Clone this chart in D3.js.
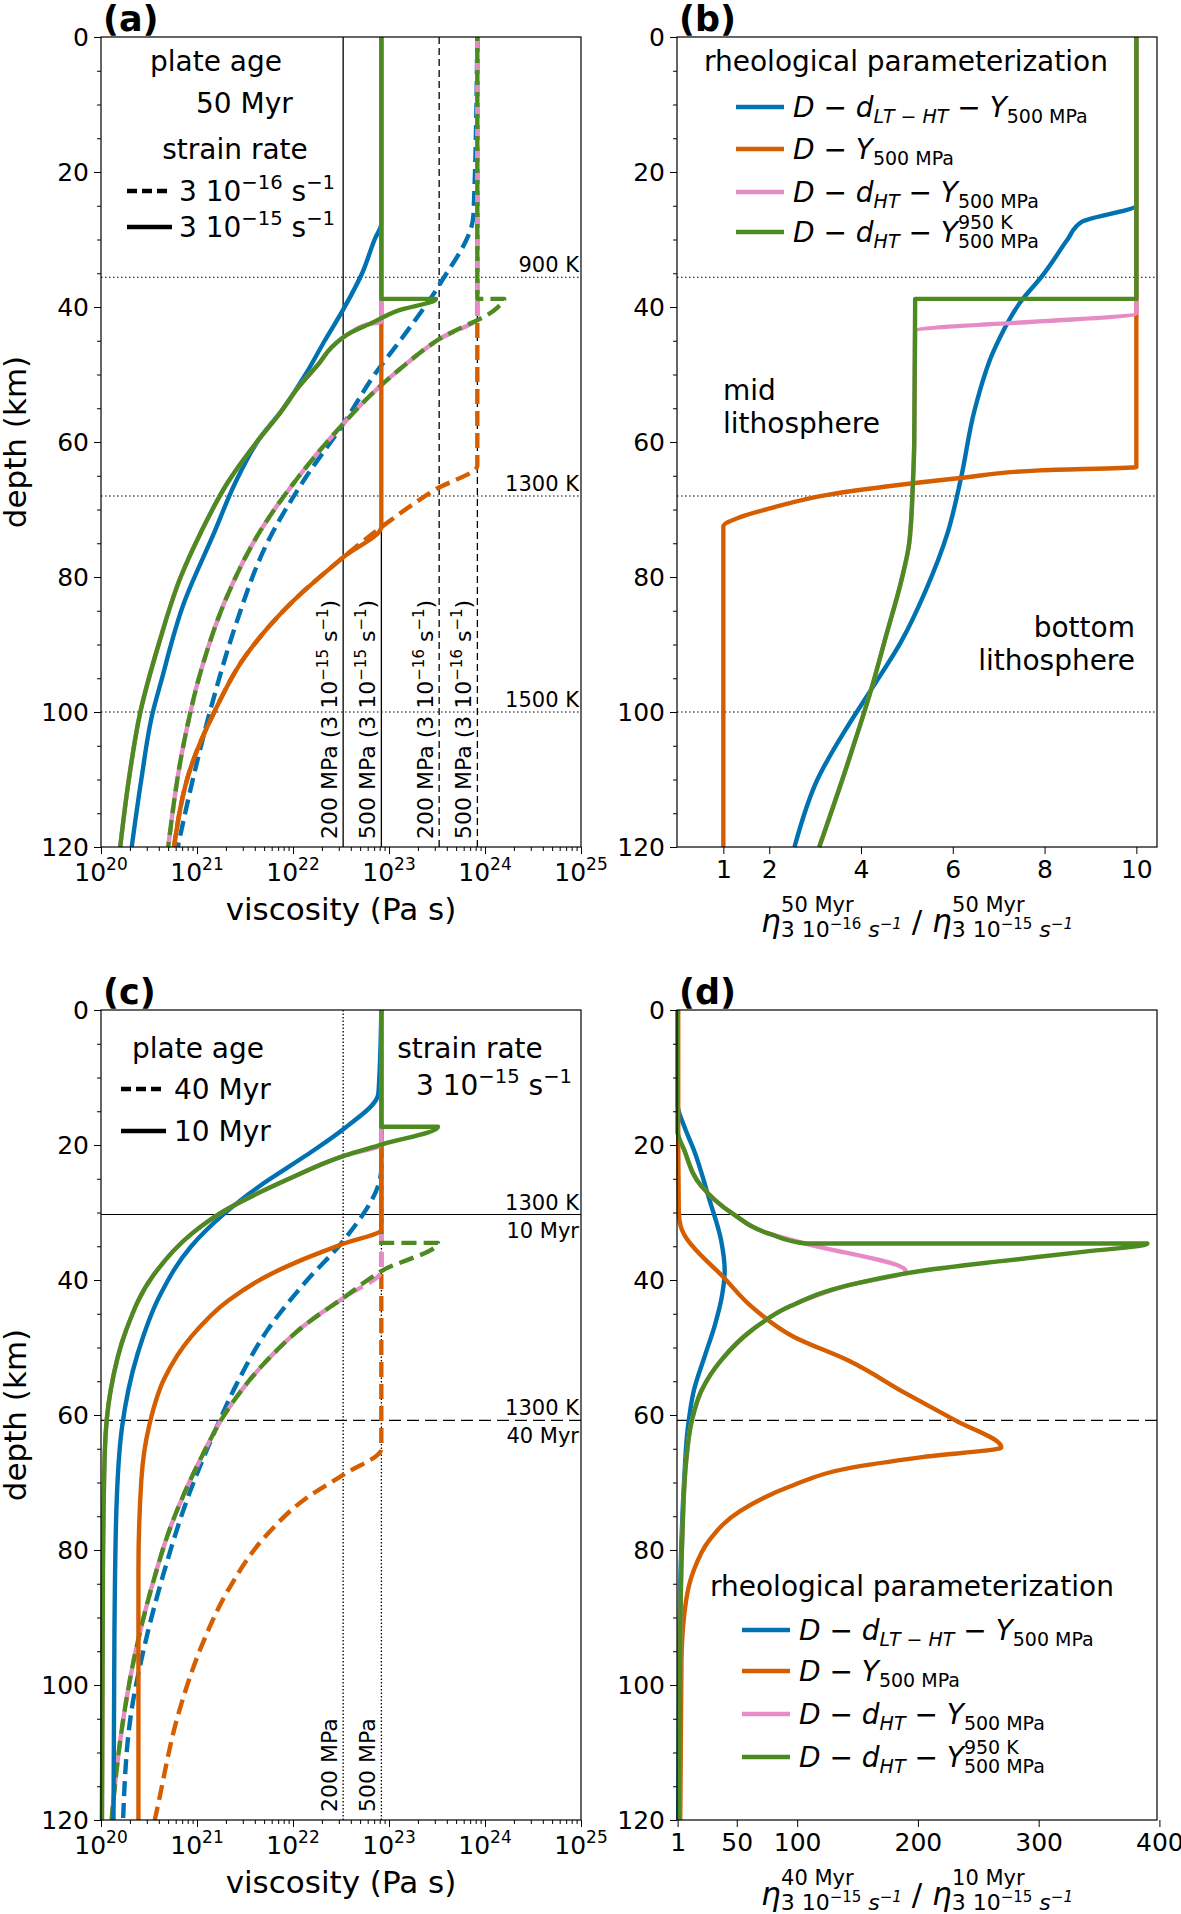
<!DOCTYPE html>
<html><head><meta charset="utf-8">
<script src="https://cdn.jsdelivr.net/npm/d3@7"></script>
<style>body{margin:0;background:#fff}svg text{font-family:"DejaVu Sans",sans-serif}</style>
</head><body><div id="graph"></div>
<script>
// colours of the four rheological parameterizations
const C = {blue: "#0072b2", orange: "#d55e00", pink: "#e68bc5", green: "#4d8a1f"};

// panel (a): [depth km, log10 viscosity], 50 Myr plate
const a_blue_15 = [[0,22.92],[27.6,22.92],[30,22.85],[35,22.72],[40.2,22.53],[45,22.33],[50,22.13],[55,21.9],[59.5,21.65],[66,21.4],[73.4,21.18],[84,20.86],[95.8,20.62],[100,20.54],[110,20.42],[120,20.32]];
const a_green_15 = [[0,22.92],[38.8,22.92],[38.8,23.49],[40.5,23.1],[42.5,22.8],[43.8,22.6],[46,22.4],[48.2,22.28],[52,22.05],[56,21.85],[59.5,21.65],[66,21.32],[73.4,21.04],[80,20.83],[90,20.6],[100,20.41],[110,20.29],[120,20.20]];
const a_pink_15 = [[0,22.92],[42.2,22.92],[42.5,22.8],[43.8,22.6],[46,22.4],[48.2,22.28],[52,22.05],[56,21.85],[59.5,21.65],[66,21.32],[73.4,21.04],[80,20.83],[90,20.6],[100,20.41],[110,20.29],[120,20.20]];
const a_orange_15 = [[0,22.92],[72.5,22.92],[77,22.53],[84,21.97],[92,21.49],[100,21.18],[108,20.94],[120,20.76]];
const a_blue_16 = [[0,23.92],[26.3,23.88],[36.6,23.53],[44.7,23.13],[50,22.85],[57.2,22.53],[65.3,22.13],[75,21.73],[86.8,21.41],[97.6,21.18],[111,20.94],[120,20.8]];
const a_green_16 = [[0,23.92],[38.8,23.92],[38.8,24.2],[40.2,24.12],[44.7,23.53],[49,23.13],[53.6,22.77],[57.2,22.53],[65.3,22.05],[73.4,21.65],[82.3,21.33],[93,21.06],[104.8,20.86],[120,20.70]];
const a_pink_16 = [[0,23.92],[41.5,23.92],[44.7,23.53],[49,23.13],[53.6,22.77],[57.2,22.53],[65.3,22.05],[73.4,21.65],[82.3,21.33],[93,21.06],[104.8,20.86],[120,20.70]];
const a_orange_16 = [[0,23.92],[63.5,23.92],[67,23.49],[72.5,22.93],[77,22.53],[84,21.97],[92,21.49],[100,21.18],[108,20.94],[120,20.76]];

// panel (b): [depth, ratio 3e-16 / 3e-15]
const b_blue = [[0,10],[24.9,10],[27.4,8.81],[30,8.5],[33,8.2],[35.2,7.97],[39.3,7.47],[46.5,6.89],[55.4,6.47],[65.3,6.18],[73.4,5.89],[82.3,5.39],[89.5,4.88],[96.7,4.22],[102,3.72],[110,3.05],[120,2.55]];
const b_green = [[0,10],[38.8,10],[38.8,5.18],[60,5.16],[66.2,5.13],[75,5.05],[80.5,4.88],[88.6,4.55],[96.7,4.22],[107.4,3.72],[120,3.09]];
const b_pink = [[0,10],[40.9,10],[43.6,5.18],[60,5.16],[66.2,5.13],[75,5.05],[80.5,4.88],[88.6,4.55],[96.7,4.22],[107.4,3.72],[120,3.09]];
const b_orange = [[0,10],[63.7,10],[64.2,7.89],[65.3,6.22],[66.6,4.55],[67.8,3.3],[69.8,2.04],[71.1,1.38],[72.5,1],[120,1]];

// panel (c): [depth, log10 viscosity], strain rate 3e-15
const c_blue_10 = [[0,22.92],[12.3,22.89],[17.6,22.53],[21.6,22.13],[26.1,21.65],[30.1,21.29],[35,20.94],[42.1,20.62],[51,20.38],[61.7,20.22],[74.2,20.16],[92,20.14],[120,20.13]];
const c_green_10 = [[0,22.92],[17.3,22.92],[17.3,23.51],[19.9,22.93],[21.6,22.53],[25.2,21.93],[29.7,21.29],[33.2,20.94],[39.4,20.54],[47.5,20.26],[56.4,20.10],[65.3,20.04],[83,20.02],[120,20.01]];
const c_pink_10 = [[0,22.92],[19.9,22.92],[21.6,22.53],[25.2,21.93],[29.7,21.29],[33.2,20.94],[39.4,20.54],[47.5,20.26],[56.4,20.10],[65.3,20.04],[83,20.02],[120,20.01]];
const c_orange_10 = [[0,22.92],[32.5,22.92],[34.6,22.53],[36.8,22.13],[39.4,21.73],[43,21.33],[48.4,20.94],[54.6,20.66],[61.7,20.5],[69.7,20.42],[83,20.39],[120,20.39]];
const c_blue_40 = [[0,22.92],[23.4,22.92],[34.1,22.53],[40.3,22.13],[47.5,21.73],[55.5,21.41],[62.6,21.18],[72.4,20.9],[83.1,20.66],[93.8,20.46],[103.6,20.32],[120,20.23]];
const c_green_40 = [[0,22.92],[34.5,22.92],[34.5,23.51],[38.6,22.93],[42.6,22.53],[46.6,22.13],[51.9,21.73],[59,21.33],[67,21.02],[76,20.74],[84.9,20.54],[96.4,20.34],[106.2,20.22],[120,20.11]];
const c_pink_40 = [[0,22.92],[38.6,22.92],[42.6,22.53],[46.6,22.13],[51.9,21.73],[59,21.33],[67,21.02],[76,20.74],[84.9,20.54],[96.4,20.34],[106.2,20.22],[120,20.11]];
const c_orange_40 = [[0,22.92],[65,22.92],[68.8,22.53],[72.4,22.13],[77.7,21.73],[85.8,21.33],[93.8,21.06],[103.6,20.82],[118.7,20.58],[120,20.56]];

// panel (d): [depth, ratio 40 Myr / 10 Myr]
const d_blue = [[0,1],[14,1],[17.2,6.4],[20.7,14.4],[27.9,27],[34.1,37],[38.6,40],[42.1,38],[46.6,32],[51,24],[56.4,14.4],[61.7,9.6],[69.7,6.4],[78.6,4.2],[92,2.6],[120,1.6]];
const d_green = [[0,1],[18,1],[20.7,6.4],[26.1,20.7],[30.1,46],[33.2,78],[34.6,107],[34.6,390],[35.9,333],[37.2,269],[38.6,205],[40.8,142],[43.9,94],[47.5,62],[51.9,37],[56.4,20.7],[60.8,12.8],[67,8],[78.6,4.8],[92,3.2],[120,2.3]];
const d_pink = [[0,1],[18,1],[20.7,6.4],[26.1,20.7],[30.1,46],[33.2,78],[34.6,107],[38.7,190],[40.8,142],[43.9,94],[47.5,62],[51.9,37],[56.4,20.7],[60.8,12.8],[67,8],[78.6,4.8],[92,3.2],[120,2.3]];
const d_orange = [[0,1.5],[20,1.5],[30,2],[32,3.5],[34,9],[35.9,18],[39.4,38],[43.9,62],[48.4,97],[51.9,142],[56.8,190],[60.8,231],[64.8,269],[66.2,205],[67.9,142],[70.6,94],[74.2,53],[78.6,27],[83,14.4],[87.5,8],[96.4,4.2],[120,3.2]];

const depth_ticks = [0,20,40,60,80,100,120];
const b_ticks = [1,2,4,6,8,10];
const d_ticks = [1,50,100,200,300,400];

const W = 1181, H = 1914;
const FS_TICK = 25, FS_LEG = 28, FS_AX = 31, LW = 4.4;
const svg = d3.select("#graph").append("svg").attr("width", W).attr("height", H);

const LEFT = [101, 677], RIGHT = [581, 1157];
const TOP = [37, 1010], BOT = [847, 1820];

function makePanel(col, row, xscale) {
  const g = svg.append("g");
  const y = d3.scaleLinear().domain([0, 120]).range([TOP[row], BOT[row]]);
  xscale.range([LEFT[col], RIGHT[col]]);
  return {g, x: xscale, y};
}

function yAxis(p) {
  const ax = d3.axisLeft(p.y).tickValues(depth_ticks).tickSize(7).tickPadding(5);
  const g = p.g.append("g").attr("transform", `translate(${p.x.range()[0]},0)`).call(ax);
  g.select(".domain").remove();
  g.selectAll("text").attr("font-size", FS_TICK).attr("fill", "#000");
  const m = d3.axisLeft(p.y).tickValues(d3.range(5, 120, 5).filter(v => v % 20)).tickSize(4).tickFormat("");
  const gm = p.g.append("g").attr("transform", `translate(${p.x.range()[0]},0)`).call(m);
  gm.select(".domain").remove();
}

function logXAxis(p) {
  const b = p.y.range()[1];
  const maj = d3.axisBottom(p.x).tickValues([1e20,1e21,1e22,1e23,1e24,1e25]).tickSize(7).tickFormat("");
  p.g.append("g").attr("transform", `translate(0,${b})`).call(maj).select(".domain").remove();
  const minor = [];
  for (let e = 20; e < 25; e++) for (let k = 2; k < 10; k++) minor.push(k * Math.pow(10, e));
  const mi = d3.axisBottom(p.x).tickValues(minor).tickSize(4).tickFormat("");
  p.g.append("g").attr("transform", `translate(0,${b})`).call(mi).select(".domain").remove();
  for (let e = 20; e <= 25; e++) {
    const t = p.g.append("text").attr("x", p.x(Math.pow(10, e))).attr("y", b + 34)
      .attr("text-anchor", "middle").attr("font-size", FS_TICK);
    t.append("tspan").text("10");
    t.append("tspan").attr("dy", -11).attr("font-size", 17).text(e);
  }
}

function linXAxis(p, ticks) {
  const b = p.y.range()[1];
  const ax = d3.axisBottom(p.x).tickValues(ticks).tickSize(7).tickPadding(6);
  const g = p.g.append("g").attr("transform", `translate(0,${b})`).call(ax);
  g.select(".domain").remove();
  g.selectAll("text").attr("font-size", FS_TICK).attr("fill", "#000");
}

function frame(p) {
  const [x0, x1] = p.x.range(), [y0, y1] = p.y.range();
  p.g.append("rect").attr("x", x0).attr("y", y0).attr("width", x1 - x0).attr("height", y1 - y0)
    .attr("fill", "none").attr("stroke", "#000").attr("stroke-width", 1.2);
}

function curve(p, data, color, dash, log, offset) {
  const line = d3.line().x(d => p.x(log ? Math.pow(10, d[1]) : d[1])).y(d => p.y(d[0])).curve(d3.curveMonotoneY);
  const path = p.g.append("path").datum(data).attr("d", line).attr("fill", "none")
    .attr("stroke", color).attr("stroke-width", LW).attr("stroke-linejoin", "round");
  if (dash) path.attr("stroke-dasharray", "15,7").attr("stroke-dashoffset", offset || 0);
}

function hline(p, depth, dash) {
  const [x0, x1] = p.x.range();
  const l = p.g.append("line").attr("x1", x0).attr("x2", x1).attr("y1", p.y(depth)).attr("y2", p.y(depth))
    .attr("stroke", "#000").attr("stroke-width", 1.1);
  if (dash) l.attr("stroke-dasharray", dash);
}
function vline(p, xv, dash) {
  const [y0, y1] = p.y.range();
  const l = p.g.append("line").attr("x1", p.x(xv)).attr("x2", p.x(xv)).attr("y1", y0).attr("y2", y1)
    .attr("stroke", "#000").attr("stroke-width", 1.3);
  if (dash) l.attr("stroke-dasharray", dash);
}

function rotLabel(p, xv, txt, exp) {
  const xx = p.x(xv) - 6, yy = p.y.range()[1] - 8;
  const t = p.g.append("text").attr("transform", `translate(${xx},${yy}) rotate(-90)`)
    .attr("font-family", "DejaVu Sans Condensed").attr("font-size", 22);
  t.append("tspan").text(txt);
  if (exp) {
    t.append("tspan").text(" (3 10");
    t.append("tspan").attr("dy", -9).attr("font-size", 15).text(exp);
    t.append("tspan").attr("dy", 9).text(" s");
    t.append("tspan").attr("dy", -9).attr("font-size", 15).text("−1");
    t.append("tspan").attr("dy", 9).text(")");
  }
}

function rightLabel(p, depth, txt, below) {
  p.g.append("text").attr("x", p.x.range()[1] - 2).attr("y", p.y(depth) + (below ? 23 : -5))
    .attr("text-anchor", "end").attr("font-size", 21).text(txt);
}

function rateText(g, x, y, exp, size) {
  const t = g.append("text").attr("x", x).attr("y", y).attr("font-size", size);
  t.append("tspan").text("3 10");
  t.append("tspan").attr("dy", -12).attr("font-size", size * 0.7).text(exp);
  t.append("tspan").attr("dy", 12).text(" s");
  t.append("tspan").attr("dy", -12).attr("font-size", size * 0.7).text("−1");
  return t;
}

function legLine(g, x0, x1, y, color, dash) {
  const l = g.append("line").attr("x1", x0).attr("x2", x1).attr("y1", y).attr("y2", y)
    .attr("stroke", color).attr("stroke-width", LW);
  if (dash) l.attr("stroke-dasharray", "10,5");
}

// math legend entries: D − d_sub − Y_500 MPa (optional 950 K superscript)
function mathEntry(g, x, y, sub, sup) {
  const t = g.append("text").attr("x", x).attr("y", y).attr("font-size", FS_LEG);
  t.append("tspan").attr("font-style", "italic").text("D");
  t.append("tspan").text(" − ");
  if (sub) {
    t.append("tspan").attr("font-style", "italic").text("d");
    t.append("tspan").attr("font-style", "italic").attr("font-size", 19).attr("dy", 6).text(sub);
    t.append("tspan").attr("dy", -6).text(" − ");
  }
  t.append("tspan").attr("font-style", "italic").text("Y");
  const s = t.append("tspan").attr("font-size", 19).attr("dy", 6).text("500 MPa");
  if (sup) {
    const sx = s.node().getStartPositionOfChar(0).x;
    g.append("text").attr("x", sx).attr("y", y - 13).attr("font-size", 19).text(sup);
  }
}

function legendRheo(g, x, ty, ys) {
  g.append("text").attr("x", x).attr("y", ty).attr("font-size", FS_LEG).text("rheological parameterization");
  const cols = [C.blue, C.orange, C.pink, C.green];
  const subs = ["LT − HT", null, "HT", "HT"];
  ys.forEach((yy, i) => {
    legLine(g, x + 32, x + 80, yy, cols[i]);
    mathEntry(g, x + 89, yy + 10, subs[i], i === 3 ? "950 K" : null);
  });
}

function ratioLabel(g, cx, y, supL, expL, supR, expR) {
  const t = g.append("text").attr("x", cx).attr("y", y).attr("text-anchor", "middle").attr("font-size", 31);
  const part = (sup, exp) => {
    t.append("tspan").attr("font-style", "italic").text("η");
    t.append("tspan").attr("font-size", 22).attr("dy", 5).text("3 10");
    t.append("tspan").attr("font-size", 15).attr("dy", -8).text(exp);
    t.append("tspan").attr("font-size", 22).attr("font-style", "italic").attr("dy", 8).text(" s");
    t.append("tspan").attr("font-size", 15).attr("font-style", "italic").attr("dy", -8).text("−1");
    t.append("tspan").attr("dy", 3).text(" ");
  };
  part(supL, expL);
  t.append("tspan").text("/ ");
  part(supR, expR);
  const etas = t.selectAll("tspan").nodes().filter(n => n.textContent === "η");
  [supL, supR].forEach((s, i) => {
    const px = etas[i].getStartPositionOfChar(0).x + 20;
    g.append("text").attr("x", px).attr("y", y - 20).attr("font-size", 21).text(s);
  });
}

function axisTitles(p, xtitle) {
  const [y0, y1] = p.y.range();
  p.g.append("text").attr("transform", `translate(${26},${(y0 + y1) / 2}) rotate(-90)`)
    .attr("text-anchor", "middle").attr("font-size", FS_AX).text("depth (km)");
  if (xtitle) p.g.append("text").attr("x", (p.x.range()[0] + p.x.range()[1]) / 2).attr("y", y1 + 73)
    .attr("text-anchor", "middle").attr("font-size", FS_AX).text(xtitle);
}

function panelLabel(p, txt) {
  p.g.append("text").attr("x", p.x.range()[0] + 2).attr("y", p.y.range()[0] - 6)
    .attr("font-size", 35).attr("font-weight", "bold").text(txt);
}

// ---------- panel (a)
const pa = makePanel(0, 0, d3.scaleLog().domain([1e20, 1e25]));
[35.6, 68, 100].forEach(d => hline(pa, d, "1.5,2.5"));
vline(pa, 3.33e22); vline(pa, 8.33e22); vline(pa, 3.33e23, "7,4"); vline(pa, 8.33e23, "7,4");
rotLabel(pa, 3.33e22, "200 MPa", "−15"); rotLabel(pa, 8.33e22, "500 MPa", "−15");
rotLabel(pa, 3.33e23, "200 MPa", "−16"); rotLabel(pa, 8.33e23, "500 MPa", "−16");
rightLabel(pa, 35.6, "900 K"); rightLabel(pa, 68, "1300 K"); rightLabel(pa, 100, "1500 K");
curve(pa, a_blue_16, C.blue, true, true);
curve(pa, a_orange_16, C.orange, true, true);
curve(pa, a_pink_16, C.pink, true, true);
curve(pa, a_green_16, C.green, true, true, 11);
curve(pa, a_blue_15, C.blue, false, true);
curve(pa, a_orange_15, C.orange, false, true);
curve(pa, a_pink_15, C.pink, false, true);
curve(pa, a_green_15, C.green, false, true);
frame(pa); yAxis(pa); logXAxis(pa); axisTitles(pa, "viscosity (Pa s)"); panelLabel(pa, "(a)");
pa.g.append("text").attr("x", 216).attr("y", 71).attr("text-anchor", "middle").attr("font-size", FS_LEG).text("plate age");
pa.g.append("text").attr("x", 196).attr("y", 113).attr("font-size", FS_LEG).text("50 Myr");
pa.g.append("text").attr("x", 235).attr("y", 159).attr("text-anchor", "middle").attr("font-size", FS_LEG).text("strain rate");
legLine(pa.g, 127, 172, 191, "#000", true); rateText(pa.g, 179, 201, "−16", FS_LEG);
legLine(pa.g, 127, 172, 227, "#000"); rateText(pa.g, 179, 237, "−15", FS_LEG);

// ---------- panel (b)
const pb = makePanel(1, 0, d3.scaleLinear().domain([-0.01, 10.45]));
[35.6, 68, 100].forEach(d => hline(pb, d, "1.5,2.5"));
curve(pb, b_blue, C.blue);
curve(pb, b_orange, C.orange);
curve(pb, b_pink, C.pink);
curve(pb, b_green, C.green);
frame(pb); yAxis(pb); linXAxis(pb, b_ticks); panelLabel(pb, "(b)");
legendRheo(pb.g, 704, 71, [107, 149, 192, 232]);
pb.g.append("text").attr("x", 723).attr("y", 400).attr("font-size", FS_LEG).text("mid");
pb.g.append("text").attr("x", 723).attr("y", 433).attr("font-size", FS_LEG).text("lithosphere");
pb.g.append("text").attr("x", 1135).attr("y", 637).attr("text-anchor", "end").attr("font-size", FS_LEG).text("bottom");
pb.g.append("text").attr("x", 1135).attr("y", 670).attr("text-anchor", "end").attr("font-size", FS_LEG).text("lithosphere");
ratioLabel(pb.g, 917, 932, "50 Myr", "−16", "50 Myr", "−15");

// ---------- panel (c)
const pc = makePanel(0, 1, d3.scaleLog().domain([1e20, 1e25]));
vline(pc, 3.33e22, "1.5,2"); vline(pc, 8.33e22, "1.5,2");
rotLabel(pc, 3.33e22, "200 MPa"); rotLabel(pc, 8.33e22, "500 MPa");
hline(pc, 30.3); hline(pc, 60.8, "12,6");
rightLabel(pc, 30.3, "1300 K"); rightLabel(pc, 30.3, "10 Myr", true);
rightLabel(pc, 60.8, "1300 K"); rightLabel(pc, 60.8, "40 Myr", true);
curve(pc, c_blue_40, C.blue, true, true);
curve(pc, c_orange_40, C.orange, true, true);
curve(pc, c_pink_40, C.pink, true, true);
curve(pc, c_green_40, C.green, true, true, 11);
curve(pc, c_blue_10, C.blue, false, true);
curve(pc, c_orange_10, C.orange, false, true);
curve(pc, c_pink_10, C.pink, false, true);
curve(pc, c_green_10, C.green, false, true);
frame(pc); yAxis(pc); logXAxis(pc); axisTitles(pc, "viscosity (Pa s)"); panelLabel(pc, "(c)");
pc.g.append("text").attr("x", 198).attr("y", 1058).attr("text-anchor", "middle").attr("font-size", FS_LEG).text("plate age");
legLine(pc.g, 121, 166, 1089, "#000", true);
pc.g.append("text").attr("x", 174).attr("y", 1099).attr("font-size", FS_LEG).text("40 Myr");
legLine(pc.g, 121, 166, 1131, "#000");
pc.g.append("text").attr("x", 174).attr("y", 1141).attr("font-size", FS_LEG).text("10 Myr");
pc.g.append("text").attr("x", 470).attr("y", 1058).attr("text-anchor", "middle").attr("font-size", FS_LEG).text("strain rate");
rateText(pc.g, 416, 1095, "−15", FS_LEG);

// ---------- panel (d)
const pd = makePanel(1, 1, d3.scaleLinear().domain([0.5, 398]));
hline(pd, 30.3); hline(pd, 60.8, "12,6");
curve(pd, d_blue, C.blue);
curve(pd, d_orange, C.orange);
curve(pd, d_pink, C.pink);
curve(pd, d_green, C.green);
frame(pd); yAxis(pd); linXAxis(pd, d_ticks); panelLabel(pd, "(d)");
legendRheo(pd.g, 710, 1596, [1630, 1671, 1714, 1757]);
ratioLabel(pd.g, 917, 1905, "40 Myr", "−15", "10 Myr", "−15");
</script></body></html>
